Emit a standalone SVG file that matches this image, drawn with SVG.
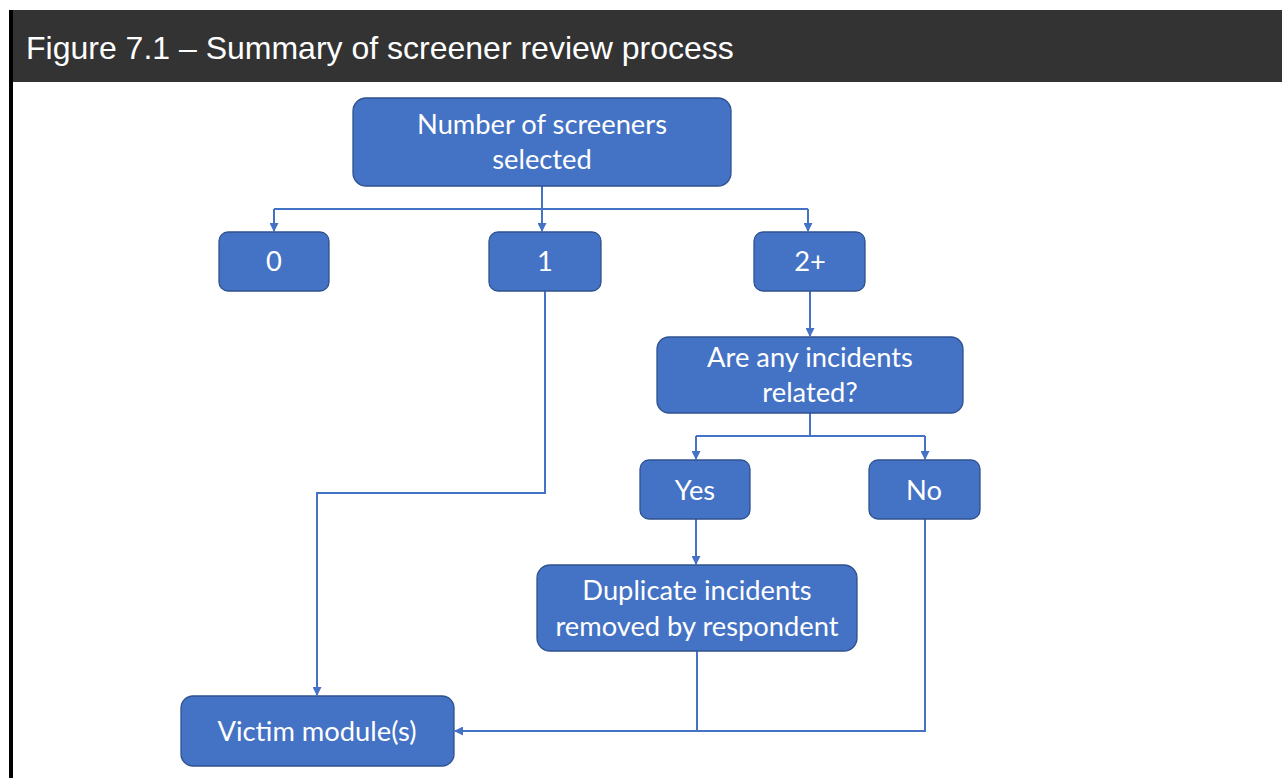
<svg xmlns="http://www.w3.org/2000/svg" width="1282" height="778" viewBox="0 0 1282 778">
<style>
.node rect{fill:#4472C4;stroke:#2F528F;stroke-width:1.3}
.node text{fill:#fff;font-family:Lato,"Open Sans",sans-serif;font-size:27.3px;text-anchor:middle}
.conn{fill:none;stroke:#4472C4;stroke-width:2}
</style>
<defs>
<marker id="ah" markerWidth="9" markerHeight="9" refX="8" refY="4.5" orient="auto" markerUnits="userSpaceOnUse">
<path d="M0,0 L9,4.5 L0,9 Z" fill="#4472C4"/>
</marker>
</defs>
<rect x="0" y="0" width="1282" height="778" fill="#fff"/>
<rect x="10" y="10" width="1272" height="72" fill="#333333"/>
<rect x="9" y="10" width="4" height="768" fill="#000"/>
<text x="26" y="59" fill="#fff" font-family="Liberation Sans, Arial, sans-serif" font-size="32">Figure 7.1 – Summary of screener review process</text>
<g id="connectors">
<path class="conn" d="M542,186 V209"/>
<path class="conn" d="M274,209 H808"/>
<path class="conn" d="M274,209 V231" marker-end="url(#ah)"/>
<path class="conn" d="M542,209 V231" marker-end="url(#ah)"/>
<path class="conn" d="M808,209 V231" marker-end="url(#ah)"/>
<path class="conn" d="M545,291 V493 H317 V695" marker-end="url(#ah)"/>
<path class="conn" d="M810,291 V336" marker-end="url(#ah)"/>
<path class="conn" d="M810,413 V436"/>
<path class="conn" d="M696,436 H925"/>
<path class="conn" d="M696,436 V459" marker-end="url(#ah)"/>
<path class="conn" d="M925,436 V459" marker-end="url(#ah)"/>
<path class="conn" d="M696,519 V564" marker-end="url(#ah)"/>
<path class="conn" d="M697,651 V731"/>
<path class="conn" d="M925,519 V731 H455" marker-end="url(#ah)"/>
</g>
<g id="n-number" class="node"><rect x="353" y="98" width="378" height="88" rx="13"/><text x="542" y="134">Number of screeners</text><text x="542" y="169">selected</text></g>
<g id="n-0" class="node"><rect x="219" y="232" width="110" height="59" rx="9"/><text x="274" y="271">0</text></g>
<g id="n-1" class="node"><rect x="489" y="232" width="112" height="59" rx="9"/><text x="545" y="271">1</text></g>
<g id="n-2plus" class="node"><rect x="754" y="232" width="111" height="59" rx="9"/><text x="810" y="271">2+</text></g>
<g id="n-related" class="node"><rect x="657" y="337" width="306" height="76" rx="12"/><text x="810" y="367">Are any incidents</text><text x="810" y="402">related?</text></g>
<g id="n-yes" class="node"><rect x="640" y="460" width="110" height="59" rx="9"/><text x="695" y="500">Yes</text></g>
<g id="n-no" class="node"><rect x="869" y="460" width="111" height="59" rx="9"/><text x="924" y="500">No</text></g>
<g id="n-dup" class="node"><rect x="537" y="565" width="320" height="86" rx="13"/><text x="697" y="600">Duplicate incidents</text><text x="697" y="636">removed by respondent</text></g>
<g id="n-victim" class="node"><rect x="181" y="696" width="273" height="70" rx="12"/><text x="317" y="741">Victim module(s)</text></g>
</svg>
